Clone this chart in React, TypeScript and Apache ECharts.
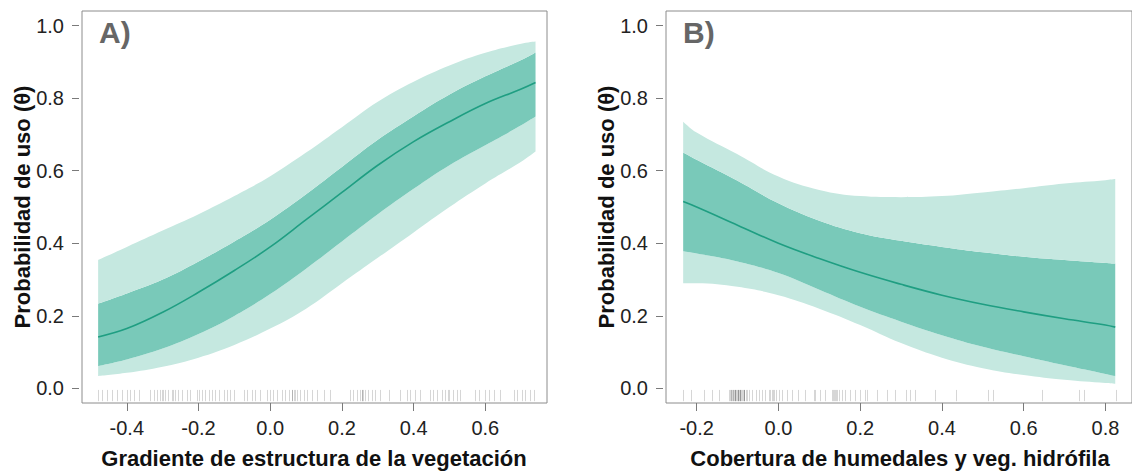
import React, { useEffect, useRef } from "react";
import * as echarts from "echarts";

// Panel A: gradiente de estructura de la vegetación
const xA = [-0.48, -0.4, -0.3, -0.2, -0.1, 0.0, 0.1, 0.2, 0.3, 0.4, 0.5, 0.6, 0.7, 0.74];
const lineA = [0.142, 0.165, 0.21, 0.265, 0.325, 0.39, 0.465, 0.54, 0.615, 0.68, 0.735, 0.785, 0.825, 0.843];
const darkUpA = [0.234, 0.262, 0.3, 0.35, 0.405, 0.465, 0.535, 0.61, 0.685, 0.75, 0.81, 0.86, 0.905, 0.926];
const darkLoA = [0.062, 0.08, 0.11, 0.15, 0.2, 0.26, 0.33, 0.405, 0.48, 0.55, 0.615, 0.67, 0.725, 0.749];
const lightUpA = [0.354, 0.39, 0.435, 0.48, 0.53, 0.585, 0.65, 0.72, 0.79, 0.845, 0.89, 0.925, 0.95, 0.956];
const lightLoA = [0.034, 0.043, 0.06, 0.085, 0.12, 0.165, 0.22, 0.29, 0.36, 0.43, 0.5, 0.565, 0.625, 0.653];
const rugA = [
  -0.479, -0.47, -0.456, -0.442, -0.428, -0.414, -0.4, -0.391, -0.381, -0.367, -0.335, -0.325,
  -0.316, -0.307, -0.302, -0.293, -0.284, -0.274, -0.265, -0.256, -0.246, -0.232, -0.223,
  -0.205, -0.2, -0.191, -0.181, -0.172, -0.163, -0.153, -0.144, -0.13, -0.121, -0.112, -0.102,
  -0.074, -0.065, -0.051, -0.042, -0.028, -0.009, 0.0, 0.009, 0.019, 0.033, 0.042, 0.051, 0.06,
  0.065, 0.074, 0.084, 0.093, 0.102, 0.116, 0.13, 0.149, 0.167, 0.223, 0.232, 0.242, 0.251,
  0.256, 0.265, 0.274, 0.284, 0.293, 0.307, 0.33, 0.363, 0.381, 0.391, 0.404, 0.418, 0.446,
  0.455, 0.465, 0.479, 0.488, 0.497, 0.511, 0.521, 0.53, 0.572, 0.581, 0.6, 0.609, 0.623,
  0.642, 0.679, 0.688, 0.702, 0.711, 0.725, 0.735,
  -0.3, -0.27, 0.06, 0.07, 0.255, 0.26, 0.5,
];

// Panel B: cobertura de humedales y vegetación hidrófila
const xB = [-0.233, -0.2, -0.1, 0.0, 0.1, 0.2, 0.3, 0.4, 0.5, 0.6, 0.7, 0.8, 0.824];
const lineB = [0.515, 0.5, 0.45, 0.4, 0.358, 0.32, 0.287, 0.257, 0.232, 0.211, 0.192, 0.175, 0.169];
const darkUpB = [0.65, 0.63, 0.572, 0.51, 0.462, 0.428, 0.407, 0.39, 0.375, 0.363, 0.354, 0.346, 0.344];
const darkLoB = [0.378, 0.372, 0.35, 0.318, 0.272, 0.225, 0.184, 0.147, 0.115, 0.089, 0.064, 0.04, 0.034];
const lightUpB = [0.735, 0.705, 0.645, 0.584, 0.547, 0.53, 0.527, 0.53, 0.54, 0.552, 0.565, 0.574, 0.577];
const lightLoB = [0.29, 0.29, 0.28, 0.257, 0.22, 0.175, 0.125, 0.085, 0.056, 0.037, 0.024, 0.015, 0.013];
const rugB = [
  -0.233, -0.214, -0.182, -0.162, -0.145, -0.121, -0.117, -0.113, -0.109, -0.105, -0.101,
  -0.097, -0.093, -0.089, -0.085, -0.08, -0.072, -0.064, -0.056, -0.048, -0.04, -0.032,
  -0.024, -0.016, -0.011, -0.007, 0.001, 0.009, 0.021, 0.033, 0.049, 0.066, 0.086, 0.09,
  0.102, 0.114, 0.131, 0.135, 0.139, 0.143, 0.147, 0.155, 0.163, 0.175, 0.187, 0.2, 0.212,
  0.217, 0.24, 0.265, 0.285, 0.313, 0.321, 0.334, 0.382, 0.435, 0.512, 0.524, 0.646, 0.735,
  0.747, 0.825,
  -0.119, -0.115, -0.111, -0.107, -0.103, -0.099, -0.095, -0.091, -0.087, -0.083, -0.11,
  -0.1, -0.094, -0.084, -0.078, -0.02, -0.013, 0.133, 0.141, -0.106, -0.098,
];

const yTicks = [0, 0.2, 0.4, 0.6, 0.8, 1.0];
const xTicksA = [-0.4, -0.2, 0.0, 0.2, 0.4, 0.6];
const xTicksB = [-0.2, 0.0, 0.2, 0.4, 0.6, 0.8];

const FONT = "'Liberation Sans', Arial, Helvetica, sans-serif";
const LIGHT = "#c5e8e0";
const DARK = "#79c9b9";
const LINE = "#1f9e82";
const FRAME = "#8c8c8c";
const SMOOTH = 0.4;

// Rows are [y, x] so that the stack runs along the y values.
const rows = (xs: number[], ys: number[]) => xs.map((x, i) => [ys[i], x]);
const diff = (a: number[], b: number[]) => a.map((v, i) => v - b[i]);

function bandSeries(
  idx: number,
  xs: number[],
  lightLo: number[],
  darkLo: number[],
  darkUp: number[],
  lightUp: number[],
  line: number[],
  rug: number[]
) {
  const layer = (name: string, ys: number[], fill: string | null) => ({
    type: "line",
    name: name + idx,
    xAxisIndex: idx,
    yAxisIndex: idx,
    stack: "band" + idx,
    encode: { x: 1, y: 0 },
    smooth: SMOOTH,
    symbol: "none",
    data: rows(xs, ys),
    lineStyle: { width: 0, opacity: 0 },
    areaStyle: fill ? { color: fill, opacity: 1 } : undefined,
    silent: true,
    z: 1,
  });
  return [
    layer("base", lightLo, null),
    layer("lo95_", diff(darkLo, lightLo), LIGHT),
    layer("mid50_", diff(darkUp, darkLo), DARK),
    layer("hi95_", diff(lightUp, darkUp), LIGHT),
    {
      type: "line",
      name: "mean" + idx,
      xAxisIndex: idx,
      yAxisIndex: idx,
      encode: { x: 1, y: 0 },
      smooth: SMOOTH,
      symbol: "none",
      data: rows(xs, line),
      lineStyle: { color: LINE, width: 1.6 },
      silent: true,
      z: 3,
    },
    {
      type: "custom",
      name: "rug" + idx,
      xAxisIndex: idx,
      yAxisIndex: idx,
      data: rug.map((v) => [v]),
      encode: { x: 0 },
      silent: true,
      z: 4,
      renderItem: (_params: any, api: any) => {
        const x = api.value(0);
        const p0 = api.coord([x, -0.035]);
        const p1 = api.coord([x, -0.004]);
        return {
          type: "line",
          shape: { x1: Math.round(p0[0]) + 0.5, y1: p0[1], x2: Math.round(p1[0]) + 0.5, y2: p1[1] },
          style: { stroke: "rgba(0,0,0,0.16)", lineWidth: 1 },
        };
      },
    },
  ];
}

function xAxisDef(idx: number, min: number, max: number, ticks: number[]) {
  return {
    type: "value",
    gridIndex: idx,
    min,
    max,
    splitLine: { show: false },
    axisLine: { show: false, onZero: false },
    axisTick: { show: true, length: 8, lineStyle: { color: "#7a7a7a" }, customValues: ticks },
    axisLabel: {
      customValues: ticks,
      formatter: (v: number) => v.toFixed(1),
      color: "#222",
      fontFamily: FONT,
      fontSize: 20,
      margin: 15,
    },
  };
}

function yAxisDef(idx: number) {
  return {
    type: "value",
    gridIndex: idx,
    min: -0.04,
    max: 1.04,
    offset: 3,
    splitLine: { show: false },
    axisLine: { show: false, onZero: false },
    axisTick: { show: true, length: 7, lineStyle: { color: "#7a7a7a" }, customValues: yTicks },
    axisLabel: {
      customValues: yTicks,
      formatter: (v: number) => v.toFixed(1),
      color: "#222",
      fontFamily: FONT,
      fontSize: 20,
      margin: 15,
    },
  };
}

export default function App() {
  const ref = useRef<HTMLDivElement>(null);

  useEffect(() => {
    document.body.style.margin = "0";
    if (!ref.current) return;
    const chart = echarts.init(ref.current, undefined, { renderer: "svg" });

    const titleStyle = { fill: "#111", font: `bold 22px ${FONT}` };

    chart.setOption({
      animation: false,
      backgroundColor: "#ffffff",
      grid: [
        { left: 82, top: 11, width: 465, height: 392, show: true, borderColor: FRAME, borderWidth: 1, containLabel: false },
        { left: 666, top: 11, width: 468, height: 392, show: true, borderColor: FRAME, borderWidth: 1, containLabel: false },
      ],
      xAxis: [xAxisDef(0, -0.525, 0.772, xTicksA), xAxisDef(1, -0.275, 0.865, xTicksB)],
      yAxis: [yAxisDef(0), yAxisDef(1)],
      series: [
        ...bandSeries(0, xA, lightLoA, darkLoA, darkUpA, lightUpA, lineA, rugA),
        ...bandSeries(1, xB, lightLoB, darkLoB, darkUpB, lightUpB, lineB, rugB),
      ],
      graphic: [
        { type: "text", left: 99, top: 17, style: { text: "A)", fill: "#666", font: `bold 30px ${FONT}` } },
        { type: "text", left: 683, top: 17, style: { text: "B)", fill: "#666", font: `bold 30px ${FONT}` } },
        {
          type: "text",
          x: 314,
          y: 458,
          style: { ...titleStyle, text: "Gradiente de estructura de la vegetación", textAlign: "center", textVerticalAlign: "middle" },
        },
        {
          type: "text",
          x: 900,
          y: 458,
          style: { ...titleStyle, text: "Cobertura de humedales y veg. hidrófila", textAlign: "center", textVerticalAlign: "middle" },
        },
        {
          type: "text",
          x: 22,
          y: 207,
          rotation: Math.PI / 2,
          style: { ...titleStyle, text: "Probabilidad de uso (θ)", textAlign: "center", textVerticalAlign: "middle" },
        },
        {
          type: "text",
          x: 606,
          y: 207,
          rotation: Math.PI / 2,
          style: { ...titleStyle, text: "Probabilidad de uso (θ)", textAlign: "center", textVerticalAlign: "middle" },
        },
      ],
    });

    return () => chart.dispose();
  }, []);

  return <div ref={ref} style={{ width: 1132, height: 473 }} />;
}
